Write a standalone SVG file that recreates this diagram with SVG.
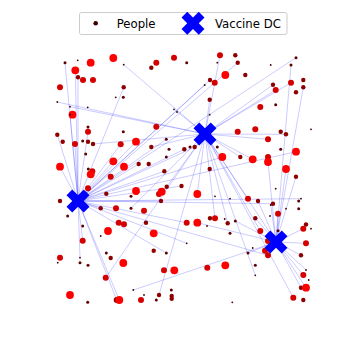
<svg xmlns="http://www.w3.org/2000/svg" width="360" height="360" viewBox="0 0 360 360">
<defs>
<style>
.c line{stroke:#0000ff;stroke-opacity:0.26;stroke-width:0.8}
.t{fill:#3c0000}.s{fill:#600000}.m{fill:#8e0000}.r{fill:#d40000}.b{fill:#ff0000}
.dc{fill:#0000ff}
.lg{font-family:"DejaVu Sans",sans-serif;font-size:11.7px;fill:#000}
</style>
<path id="xm" d="M-5.75,-11.5 L0,-5.75 L5.75,-11.5 L11.5,-5.75 L5.75,0 L11.5,5.75 L5.75,11.5 L0,5.75 L-5.75,11.5 L-11.5,5.75 L-5.75,0 L-11.5,-5.75 Z"/>
</defs>
<rect width="360" height="360" fill="#fff"/>
<g id="connectors" class="c">
<line x1="78" y1="201" x2="65" y2="62.7"/>
<line x1="78" y1="201" x2="75.3" y2="70.3"/>
<line x1="78" y1="201" x2="78" y2="77.3"/>
<line x1="78" y1="201" x2="70" y2="114.7"/>
<line x1="78" y1="201" x2="123.7" y2="87.3"/>
<line x1="78" y1="201" x2="60" y2="166.7"/>
<line x1="78" y1="201" x2="75" y2="144"/>
<line x1="78" y1="201" x2="296" y2="57.7"/>
<line x1="78" y1="201" x2="237.7" y2="62.7"/>
<line x1="78" y1="201" x2="210" y2="80"/>
<line x1="78" y1="201" x2="204.7" y2="85"/>
<line x1="78" y1="201" x2="184.3" y2="149.3"/>
<line x1="78" y1="201" x2="194.7" y2="147"/>
<line x1="78" y1="201" x2="166.3" y2="139.3"/>
<line x1="78" y1="201" x2="136" y2="141.7"/>
<line x1="78" y1="201" x2="120.7" y2="144.3"/>
<line x1="78" y1="201" x2="113.3" y2="161.3"/>
<line x1="78" y1="201" x2="164.3" y2="171.3"/>
<line x1="78" y1="201" x2="138.7" y2="164"/>
<line x1="78" y1="201" x2="301" y2="198.7"/>
<line x1="78" y1="201" x2="166.3" y2="253"/>
<line x1="78" y1="201" x2="116.7" y2="300"/>
<line x1="78" y1="201" x2="119.3" y2="300"/>
<line x1="78" y1="201" x2="82.7" y2="240.7"/>
<line x1="78" y1="201" x2="80" y2="257.7"/>
<line x1="78" y1="201" x2="186.7" y2="243.3"/>
<line x1="78" y1="201" x2="268" y2="255.3"/>
<line x1="78" y1="201" x2="186.7" y2="222.7"/>
<line x1="78" y1="201" x2="161" y2="201"/>
<line x1="78" y1="201" x2="181.5" y2="186"/>
<line x1="78" y1="201" x2="222.3" y2="157"/>
<line x1="78" y1="201" x2="296" y2="151.7"/>
<line x1="78" y1="201" x2="100.7" y2="208.3"/>
<line x1="78" y1="201" x2="273" y2="203.7"/>
<line x1="78" y1="201" x2="57.3" y2="134.7"/>
<line x1="78" y1="201" x2="88" y2="131.7"/>
<line x1="205" y1="134" x2="220" y2="55.3"/>
<line x1="205" y1="134" x2="123.7" y2="64.7"/>
<line x1="205" y1="134" x2="57.3" y2="102"/>
<line x1="205" y1="134" x2="70" y2="106.7"/>
<line x1="205" y1="134" x2="209.7" y2="99.7"/>
<line x1="205" y1="134" x2="273" y2="84.7"/>
<line x1="205" y1="134" x2="275.7" y2="90"/>
<line x1="205" y1="134" x2="291" y2="82.7"/>
<line x1="205" y1="134" x2="105.7" y2="277.7"/>
<line x1="205" y1="134" x2="159" y2="295"/>
<line x1="205" y1="134" x2="255.3" y2="275.3"/>
<line x1="205" y1="134" x2="252.7" y2="159.3"/>
<line x1="205" y1="134" x2="240.3" y2="157"/>
<line x1="205" y1="134" x2="268" y2="139.3"/>
<line x1="205" y1="134" x2="197.3" y2="194"/>
<line x1="205" y1="134" x2="227.7" y2="223.3"/>
<line x1="205" y1="134" x2="215" y2="218.3"/>
<line x1="205" y1="134" x2="248" y2="198.7"/>
<line x1="205" y1="134" x2="131" y2="208.3"/>
<line x1="205" y1="134" x2="166.7" y2="186.7"/>
<line x1="205" y1="134" x2="306" y2="287.7"/>
<line x1="205" y1="134" x2="293.3" y2="297.7"/>
<line x1="205" y1="134" x2="260.3" y2="231"/>
<line x1="205" y1="134" x2="151.3" y2="147"/>
<line x1="205" y1="134" x2="93" y2="144"/>
<line x1="205" y1="134" x2="174" y2="109.3"/>
<line x1="205" y1="134" x2="286" y2="134.3"/>
<line x1="276" y1="242" x2="291" y2="65"/>
<line x1="276" y1="242" x2="303.3" y2="87.3"/>
<line x1="276" y1="242" x2="133.3" y2="290"/>
<line x1="276" y1="242" x2="301" y2="287.7"/>
<line x1="276" y1="242" x2="306" y2="270"/>
<line x1="276" y1="242" x2="268" y2="162"/>
<line x1="276" y1="242" x2="286" y2="169"/>
<line x1="276" y1="242" x2="258" y2="201"/>
<line x1="276" y1="242" x2="278" y2="213.7"/>
<line x1="276" y1="242" x2="235.3" y2="221"/>
<line x1="276" y1="242" x2="301" y2="255.3"/>
<line x1="276" y1="242" x2="303.3" y2="275"/>
<line x1="276" y1="242" x2="248" y2="253"/>
<line x1="276" y1="242" x2="306" y2="243.3"/>
<line x1="276" y1="242" x2="303.3" y2="228.7"/>
<line x1="276" y1="242" x2="270.7" y2="205"/>
<line x1="276" y1="242" x2="255.3" y2="218.3"/>
<line x1="276" y1="242" x2="296" y2="176.7"/>
<line x1="276" y1="242" x2="197.3" y2="222.7"/>
</g>
<g id="people">
<circle class="s" cx="65" cy="62.7" r="1.5"/>
<circle class="t" cx="77.7" cy="60.3" r="0.9"/>
<circle class="b" cx="90.7" cy="62.7" r="3.9"/>
<circle class="b" cx="113.3" cy="58" r="3.9"/>
<circle class="b" cx="75.3" cy="70.3" r="3.9"/>
<circle class="m" cx="78" cy="77.3" r="2.2"/>
<circle class="r" cx="83" cy="80" r="3"/>
<circle class="r" cx="93" cy="80" r="3"/>
<circle class="r" cx="60" cy="87.3" r="3"/>
<circle class="t" cx="123.7" cy="64.7" r="0.9"/>
<circle class="r" cx="156.3" cy="62.7" r="3"/>
<circle class="m" cx="151.3" cy="67.7" r="2.2"/>
<circle class="r" cx="174" cy="57.7" r="3"/>
<circle class="m" cx="123.7" cy="87.3" r="2.2"/>
<circle class="t" cx="115.7" cy="97.3" r="0.9"/>
<circle class="s" cx="123.3" cy="97.3" r="1.5"/>
<circle class="t" cx="57.3" cy="102" r="0.9"/>
<circle class="t" cx="70" cy="106.7" r="0.9"/>
<circle class="t" cx="87.7" cy="107.3" r="0.9"/>
<circle class="b" cx="72.5" cy="114.7" r="3.9"/>
<circle class="t" cx="70" cy="114.7" r="0.9"/>
<circle class="t" cx="174" cy="109.3" r="0.9"/>
<circle class="t" cx="177" cy="112" r="0.9"/>
<circle class="s" cx="88" cy="127" r="1.5"/>
<circle class="r" cx="88" cy="131.7" r="3"/>
<circle class="r" cx="156.3" cy="126.7" r="3"/>
<circle class="s" cx="123.3" cy="131.7" r="1.5"/>
<circle class="m" cx="57.3" cy="134.7" r="2.2"/>
<circle class="s" cx="186.7" cy="62.7" r="1.5"/>
<circle class="r" cx="220" cy="55.3" r="3"/>
<circle class="m" cx="235.3" cy="55.3" r="2.2"/>
<circle class="t" cx="217.3" cy="62.7" r="0.9"/>
<circle class="m" cx="237.7" cy="62.7" r="2.2"/>
<circle class="b" cx="225.3" cy="75" r="3.9"/>
<circle class="m" cx="245.3" cy="75" r="2.2"/>
<circle class="t" cx="270.7" cy="65" r="0.9"/>
<circle class="s" cx="296" cy="57.7" r="1.5"/>
<circle class="s" cx="291" cy="65" r="1.5"/>
<circle class="m" cx="210" cy="80" r="2.2"/>
<circle class="r" cx="214.7" cy="82.7" r="3"/>
<circle class="t" cx="204.7" cy="85" r="0.9"/>
<circle class="m" cx="273" cy="84.7" r="2.2"/>
<circle class="r" cx="275.7" cy="90" r="3"/>
<circle class="r" cx="291" cy="82.7" r="3"/>
<circle class="m" cx="303.3" cy="80" r="2.2"/>
<circle class="m" cx="296" cy="92.3" r="2.2"/>
<circle class="m" cx="303.3" cy="87.3" r="2.2"/>
<circle class="m" cx="209.7" cy="99.7" r="2.2"/>
<circle class="r" cx="260.3" cy="107" r="3"/>
<circle class="s" cx="275.7" cy="104.7" r="1.5"/>
<circle class="t" cx="209.7" cy="114.7" r="0.9"/>
<circle class="r" cx="237.7" cy="131.7" r="3"/>
<circle class="r" cx="255.3" cy="129.3" r="3"/>
<circle class="r" cx="268" cy="139.3" r="3"/>
<circle class="m" cx="280.7" cy="131.7" r="2.2"/>
<circle class="m" cx="286" cy="134.3" r="2.2"/>
<circle class="t" cx="311" cy="129.3" r="0.9"/>
<circle class="m" cx="62.7" cy="141.7" r="2.2"/>
<circle class="r" cx="75" cy="144" r="3"/>
<circle class="s" cx="82.7" cy="141" r="1.5"/>
<circle class="m" cx="88" cy="141.7" r="2.2"/>
<circle class="m" cx="93" cy="144" r="2.2"/>
<circle class="s" cx="85.7" cy="154" r="1.5"/>
<circle class="r" cx="120.7" cy="144.3" r="3"/>
<circle class="b" cx="136" cy="141.7" r="3.9"/>
<circle class="m" cx="151.3" cy="147" r="2.2"/>
<circle class="s" cx="166.3" cy="139.3" r="1.5"/>
<circle class="s" cx="169" cy="149.3" r="1.5"/>
<circle class="s" cx="166.3" cy="157" r="1.5"/>
<circle class="m" cx="184.3" cy="149.3" r="2.2"/>
<circle class="b" cx="60" cy="166.7" r="3.9"/>
<circle class="b" cx="113.3" cy="161.3" r="3.9"/>
<circle class="b" cx="124" cy="166.7" r="3.9"/>
<circle class="m" cx="138.7" cy="164" r="2.2"/>
<circle class="m" cx="148.7" cy="164" r="2.2"/>
<circle class="s" cx="88.3" cy="169" r="1.5"/>
<circle class="r" cx="92.3" cy="171.3" r="3"/>
<circle class="b" cx="90.7" cy="174.3" r="3.9"/>
<circle class="r" cx="110.7" cy="176.7" r="3"/>
<circle class="m" cx="164.3" cy="171.3" r="2.2"/>
<circle class="m" cx="181.5" cy="186" r="2.2"/>
<circle class="m" cx="166.7" cy="186.7" r="2.2"/>
<circle class="r" cx="88" cy="188.3" r="3"/>
<circle class="b" cx="136" cy="191" r="3.9"/>
<circle class="m" cx="106.3" cy="193.7" r="2.2"/>
<circle class="s" cx="131" cy="196.3" r="1.5"/>
<circle class="r" cx="159" cy="194" r="3"/>
<circle class="b" cx="161.7" cy="191.7" r="3.9"/>
<circle class="m" cx="161" cy="201" r="2.2"/>
<circle class="m" cx="60" cy="201" r="2.2"/>
<circle class="m" cx="100.7" cy="208.3" r="2.2"/>
<circle class="r" cx="116" cy="208.3" r="3"/>
<circle class="s" cx="131" cy="208.3" r="1.5"/>
<circle class="r" cx="144" cy="210.7" r="3"/>
<circle class="s" cx="67.7" cy="216" r="1.5"/>
<circle class="r" cx="118.7" cy="222.7" r="3"/>
<circle class="r" cx="124" cy="224.3" r="3"/>
<circle class="m" cx="146" cy="222.7" r="2.2"/>
<circle class="s" cx="190" cy="147" r="1.5"/>
<circle class="m" cx="194.7" cy="147" r="2.2"/>
<circle class="s" cx="217.3" cy="147" r="1.5"/>
<circle class="b" cx="222.3" cy="157" r="3.9"/>
<circle class="m" cx="240.3" cy="157" r="2.2"/>
<circle class="b" cx="252.7" cy="159.3" r="3.9"/>
<circle class="r" cx="268" cy="157" r="3"/>
<circle class="b" cx="268" cy="162" r="3.9"/>
<circle class="s" cx="280.7" cy="149.3" r="1.5"/>
<circle class="b" cx="296" cy="151.7" r="3.9"/>
<circle class="m" cx="209.7" cy="169" r="2.2"/>
<circle class="b" cx="286" cy="169" r="3.9"/>
<circle class="m" cx="296" cy="176.7" r="2.2"/>
<circle class="b" cx="197.3" cy="194" r="3.9"/>
<circle class="t" cx="215" cy="196.3" r="0.9"/>
<circle class="t" cx="230" cy="198.7" r="0.9"/>
<circle class="r" cx="248" cy="198.7" r="3"/>
<circle class="m" cx="258" cy="201" r="2.2"/>
<circle class="t" cx="275.7" cy="188.7" r="0.9"/>
<circle class="t" cx="301" cy="198.7" r="0.9"/>
<circle class="s" cx="298.7" cy="201" r="1.5"/>
<circle class="m" cx="273" cy="203.7" r="2.2"/>
<circle class="t" cx="270.7" cy="205" r="0.9"/>
<circle class="t" cx="286" cy="208.7" r="0.9"/>
<circle class="s" cx="298.7" cy="208.7" r="1.5"/>
<circle class="r" cx="278" cy="213.7" r="3"/>
<circle class="m" cx="255.3" cy="218.3" r="2.2"/>
<circle class="t" cx="270" cy="216" r="0.9"/>
<circle class="m" cx="210" cy="218.3" r="2.2"/>
<circle class="r" cx="215" cy="218.3" r="3"/>
<circle class="r" cx="186.7" cy="222.7" r="3"/>
<circle class="b" cx="197.3" cy="222.7" r="3.9"/>
<circle class="m" cx="227.7" cy="223.3" r="2.2"/>
<circle class="s" cx="235.3" cy="221" r="1.5"/>
<circle class="t" cx="224.7" cy="219" r="0.9"/>
<circle class="m" cx="306" cy="224.5" r="2.2"/>
<circle class="r" cx="303.3" cy="228.7" r="3"/>
<circle class="s" cx="82.7" cy="226" r="1.5"/>
<circle class="b" cx="108" cy="231" r="3.9"/>
<circle class="t" cx="100.7" cy="236" r="0.9"/>
<circle class="b" cx="153.7" cy="233.3" r="3.9"/>
<circle class="r" cx="82.7" cy="240.7" r="3"/>
<circle class="s" cx="106.3" cy="253" r="1.5"/>
<circle class="m" cx="110.7" cy="258" r="2.2"/>
<circle class="m" cx="153.7" cy="250.7" r="2.2"/>
<circle class="s" cx="166.3" cy="253" r="1.5"/>
<circle class="r" cx="60" cy="257.7" r="3"/>
<circle class="t" cx="57.7" cy="262.7" r="0.9"/>
<circle class="t" cx="80" cy="257.7" r="0.9"/>
<circle class="s" cx="80" cy="262.7" r="1.5"/>
<circle class="s" cx="88" cy="265.3" r="1.5"/>
<circle class="b" cx="123.3" cy="263" r="3.9"/>
<circle class="r" cx="164" cy="270.3" r="3"/>
<circle class="b" cx="174.3" cy="270.3" r="3.9"/>
<circle class="r" cx="105.7" cy="277.7" r="3"/>
<circle class="t" cx="133.3" cy="290" r="0.9"/>
<circle class="t" cx="144" cy="295" r="0.9"/>
<circle class="s" cx="171.3" cy="290" r="1.5"/>
<circle class="b" cx="70" cy="295" r="3.9"/>
<circle class="m" cx="159" cy="295" r="2.2"/>
<circle class="s" cx="156.3" cy="300" r="1.5"/>
<circle class="m" cx="171.7" cy="296" r="2.2"/>
<circle class="m" cx="171.7" cy="298.7" r="2.2"/>
<circle class="s" cx="87.7" cy="302.3" r="1.5"/>
<circle class="m" cx="116.7" cy="300" r="3"/>
<circle class="b" cx="119.3" cy="300" r="3.9"/>
<circle class="r" cx="141" cy="300" r="3"/>
<circle class="t" cx="207" cy="226" r="0.9"/>
<circle class="s" cx="230" cy="233.3" r="1.5"/>
<circle class="t" cx="186.7" cy="243.3" r="0.9"/>
<circle class="r" cx="260.3" cy="231" r="3"/>
<circle class="s" cx="278" cy="230.7" r="1.5"/>
<circle class="t" cx="252.7" cy="248" r="0.9"/>
<circle class="s" cx="248" cy="253" r="1.5"/>
<circle class="r" cx="268" cy="241" r="3"/>
<circle class="r" cx="265" cy="250.7" r="3"/>
<circle class="r" cx="268" cy="255.3" r="3"/>
<circle class="s" cx="255.3" cy="265.3" r="1.5"/>
<circle class="t" cx="255.3" cy="275.3" r="0.9"/>
<circle class="r" cx="207.3" cy="267.7" r="3"/>
<circle class="b" cx="225.3" cy="265.3" r="3.9"/>
<circle class="t" cx="232.3" cy="302.3" r="0.9"/>
<circle class="r" cx="306" cy="243.3" r="3"/>
<circle class="t" cx="311" cy="228.7" r="0.9"/>
<circle class="m" cx="301" cy="255.3" r="2.2"/>
<circle class="t" cx="306" cy="270" r="0.9"/>
<circle class="r" cx="303.3" cy="275" r="3"/>
<circle class="t" cx="308.7" cy="280" r="0.9"/>
<circle class="m" cx="301" cy="287.7" r="2.2"/>
<circle class="b" cx="306" cy="287.7" r="3.9"/>
<circle class="r" cx="293.3" cy="297.7" r="3"/>
<circle class="m" cx="303.3" cy="300" r="2.2"/>
</g>
<g id="dc1"><use href="#xm" class="dc" x="78" y="201"/></g>
<g id="dc2"><use href="#xm" class="dc" x="205" y="134"/></g>
<g id="dc3"><use href="#xm" class="dc" x="276" y="242"/></g>
<g id="legend">
<rect x="79.5" y="12.5" width="207.5" height="22" rx="2" fill="#fff" fill-opacity="0.8" stroke="#cccccc" stroke-width="1"/>
<circle cx="95.7" cy="23.3" r="2.3" fill="#3c0000"/>
<text class="lg" x="116.7" y="27.6">People</text>
<use href="#xm" class="dc" x="193" y="23.3"/>
<text class="lg" x="215" y="27.6">Vaccine DC</text>
</g>
</svg>
